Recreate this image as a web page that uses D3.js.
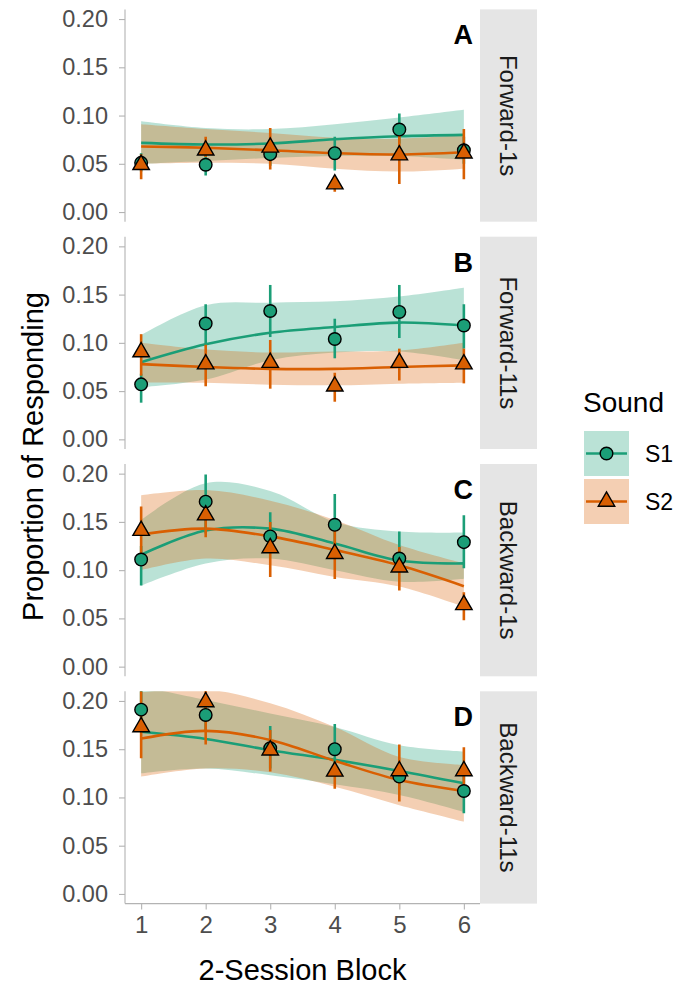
<!DOCTYPE html>
<html lang="en">
<head>
<meta charset="utf-8">
<script src="https://d3js.org/d3.v7.min.js"></script>
<style>
  body { margin: 0; background: #fff; }
  text { font-family: "Liberation Sans", Arial, sans-serif; }
</style>
</head>
<body>
<script>
// chart data, one row per panel (A..D), one value per block
const blocks = [1, 2, 3, 4, 5, 6];
const panels = ["Forward-1s", "Forward-11s", "Backward-1s", "Backward-11s"];
const panelLetters = ["A", "B", "C", "D"];
const sounds = ["S1", "S2"];
const yTicks = [0, 0.05, 0.10, 0.15, 0.20];

// S1 observed means and error bars
const s1Mean = [
  [0.051, 0.049, 0.060, 0.061, 0.0855, 0.064],
  [0.057, 0.120, 0.133, 0.104, 0.132, 0.118],
  [0.111, 0.171, 0.135, 0.147, 0.112, 0.129],
  [0.191, 0.1855, 0.151, 0.150, 0.1216, 0.1067]
];
const s1Lo = [
  [0.042, 0.038, 0.048, 0.043, 0.071, 0.050],
  [0.038, 0.099, 0.106, 0.084, 0.105, 0.094],
  [0.084, 0.138, 0.119, 0.126, 0.102, 0.102],
  [0.172, 0.170, 0.130, 0.127, 0.108, 0.0836]
];
const s1Hi = [
  [0.061, 0.060, 0.073, 0.078, 0.102, 0.078],
  [0.068, 0.140, 0.160, 0.125, 0.160, 0.140],
  [0.125, 0.199, 0.160, 0.179, 0.140, 0.157],
  [0.212, 0.200, 0.174, 0.176, 0.135, 0.128]
];
// S2 observed means and error bars
const s2Mean = [
  [0.049, 0.064, 0.067, 0.029, 0.059, 0.061],
  [0.0905, 0.078, 0.0795, 0.055, 0.0795, 0.078],
  [0.141, 0.157, 0.123, 0.117, 0.103, 0.064],
  [0.173, 0.199, 0.149, 0.127, 0.1275, 0.1275]
];
const s2Lo = [
  [0.034, 0.057, 0.044, 0.021, 0.029, 0.034],
  [0.066, 0.055, 0.0525, 0.039, 0.061, 0.058],
  [0.116, 0.134, 0.093, 0.0907, 0.079, 0.048],
  [0.1406, 0.155, 0.127, 0.109, 0.0957, 0.1026]
];
const s2Hi = [
  [0.060, 0.078, 0.087, 0.036, 0.081, 0.086],
  [0.109, 0.098, 0.103, 0.069, 0.094, 0.094],
  [0.166, 0.170, 0.150, 0.150, 0.124, 0.077],
  [0.210, 0.215, 0.170, 0.137, 0.155, 0.152]
];
// smoothed fits with confidence bands
const s1Fit = [
  [0.0717, 0.070, 0.071, 0.0755, 0.0786, 0.080],
  [0.080, 0.0985, 0.1105, 0.1164, 0.121, 0.118],
  [0.116, 0.141, 0.143, 0.1276, 0.110, 0.107],
  [0.168, 0.1606, 0.149, 0.139, 0.1275, 0.1147]
];
const s1FitLo = [
  [0.050, 0.053, 0.056, 0.058, 0.058, 0.054],
  [0.054, 0.062, 0.082, 0.090, 0.091, 0.082],
  [0.084, 0.107, 0.112, 0.100, 0.088, 0.091],
  [0.125, 0.130, 0.123, 0.1136, 0.1026, 0.085]
];
const s1FitHi = [
  [0.094, 0.087, 0.086, 0.091, 0.098, 0.106],
  [0.108, 0.139, 0.1416, 0.143, 0.148, 0.157],
  [0.152, 0.190, 0.182, 0.150, 0.140, 0.139],
  [0.215, 0.201, 0.187, 0.173, 0.154, 0.1475]
];
const s2Fit = [
  [0.068, 0.0666, 0.064, 0.061, 0.0597, 0.062],
  [0.078, 0.075, 0.073, 0.073, 0.075, 0.0767],
  [0.137, 0.143, 0.135, 0.121, 0.105, 0.0834],
  [0.161, 0.169, 0.1596, 0.138, 0.118, 0.1067]
];
const s2FitLo = [
  [0.050, 0.051, 0.050, 0.045, 0.042, 0.045],
  [0.059, 0.0587, 0.0567, 0.056, 0.0577, 0.0587],
  [0.100, 0.112, 0.105, 0.093, 0.083, 0.062],
  [0.1216, 0.130, 0.126, 0.111, 0.092, 0.075]
];
const s2FitHi = [
  [0.091, 0.086, 0.082, 0.077, 0.076, 0.080],
  [0.100, 0.093, 0.090, 0.091, 0.092, 0.100],
  [0.1776, 0.183, 0.172, 0.152, 0.126, 0.107],
  [0.209, 0.212, 0.1976, 0.173, 0.142, 0.1337]
];

const colors = { S1: "#1b9e77", S2: "#d95f02" };
const series = {
  S1: { mean: s1Mean, lo: s1Lo, hi: s1Hi, fit: s1Fit, fitLo: s1FitLo, fitHi: s1FitHi },
  S2: { mean: s2Mean, lo: s2Lo, hi: s2Hi, fit: s2Fit, fitLo: s2FitLo, fitHi: s2FitHi }
};

const W = 678, H = 985;
const left = 125, right = 480, stripW = 57;
const top0 = 9.4, panelH = 212.3, step = 227.3;

const svg = d3.select("body").append("svg")
  .attr("width", W).attr("height", H);

const x = d3.scaleLinear().domain([0.75, 6.25]).range([left, right]);

const tri = d3.symbol(d3.symbolTriangle, 118);

panels.forEach((name, p) => {
  const pt = top0 + p * step;
  const y = d3.scaleLinear().domain([-0.01, 0.21]).range([pt + panelH, pt]);
  const g = svg.append("g");

  g.append("clipPath").attr("id", "clip" + p)
    .append("rect").attr("x", left).attr("y", pt)
    .attr("width", right - left).attr("height", panelH);

  const plot = g.append("g").attr("clip-path", "url(#clip" + p + ")");

  // confidence bands
  sounds.forEach(s => {
    const d = series[s];
    const area = d3.area()
      .x((v, i) => x(blocks[i]))
      .y0((v, i) => y(d.fitLo[p][i]))
      .y1((v, i) => y(d.fitHi[p][i]))
      .curve(d3.curveCatmullRom);
    plot.append("path").attr("d", area(blocks))
      .attr("fill", colors[s]).attr("fill-opacity", 0.3);
  });

  // fitted lines
  sounds.forEach(s => {
    const d = series[s];
    const line = d3.line()
      .x((v, i) => x(blocks[i]))
      .y((v, i) => y(d.fit[p][i]))
      .curve(d3.curveCatmullRom);
    plot.append("path").attr("d", line(blocks))
      .attr("fill", "none").attr("stroke", colors[s]).attr("stroke-width", 2.6);
  });

  // error bars
  sounds.forEach(s => {
    const d = series[s];
    plot.selectAll(".eb" + s).data(blocks).enter().append("line")
      .attr("x1", b => x(b)).attr("x2", b => x(b))
      .attr("y1", (b, i) => y(d.lo[p][i]))
      .attr("y2", (b, i) => y(d.hi[p][i]))
      .attr("stroke", colors[s]).attr("stroke-width", 2.6);
  });

  // points
  plot.selectAll(".pt1").data(blocks).enter().append("circle")
    .attr("cx", b => x(b)).attr("cy", (b, i) => y(s1Mean[p][i]))
    .attr("r", 6.3).attr("fill", colors.S1)
    .attr("stroke", "#000").attr("stroke-width", 1.4);
  plot.selectAll(".pt2").data(blocks).enter().append("path")
    .attr("d", tri)
    .attr("transform", (b, i) => "translate(" + x(b) + "," + y(s2Mean[p][i]) + ")")
    .attr("fill", colors.S2)
    .attr("stroke", "#000").attr("stroke-width", 1.4);

  // y axis
  const yAxis = g.append("g").attr("transform", "translate(" + left + ",0)")
    .call(d3.axisLeft(y).tickValues(yTicks).tickFormat(d3.format(".2f")).tickSize(6).tickPadding(11));
  yAxis.select(".domain").attr("d", "M0," + pt + "V" + (pt + panelH)).attr("stroke", "#b3b3b3").attr("stroke-width", 1.1);
  yAxis.selectAll(".tick line").attr("stroke", "#b3b3b3").attr("stroke-width", 1.1);
  yAxis.selectAll(".tick text").attr("fill", "#4d4d4d").style("font-size", "23.5px")
    .style("font-family", "'Liberation Sans', Arial, sans-serif");

  // panel letter
  g.append("text").attr("x", right - 7).attr("y", pt + 35)
    .attr("text-anchor", "end").style("font-size", "27px").style("font-weight", "bold")
    .attr("fill", "#000").text(panelLetters[p]);

  // strip
  g.append("rect").attr("x", right).attr("y", pt)
    .attr("width", stripW).attr("height", panelH).attr("fill", "#e5e5e5");
  g.append("text")
    .attr("transform", "translate(" + (right + stripW / 2) + "," + (pt + panelH / 2) + ") rotate(90)")
    .attr("text-anchor", "middle").attr("dy", "0.35em")
    .style("font-size", "24px").attr("fill", "#1a1a1a").text(name);

  // x axis on bottom panel
  if (p === panels.length - 1) {
    const xAxis = g.append("g").attr("transform", "translate(0," + (pt + panelH) + ")")
      .call(d3.axisBottom(x).tickValues(blocks).tickFormat(d3.format("d")).tickSize(6).tickPadding(6));
    xAxis.select(".domain").attr("d", "M" + left + ",0H" + right).attr("stroke", "#b3b3b3").attr("stroke-width", 1.1);
    xAxis.selectAll(".tick line").attr("stroke", "#b3b3b3").attr("stroke-width", 1.1);
    xAxis.selectAll(".tick text").attr("fill", "#4d4d4d").style("font-size", "24px")
      .style("font-family", "'Liberation Sans', Arial, sans-serif");
  }
});

// axis titles
svg.append("text").attr("x", (left + right) / 2).attr("y", 980)
  .attr("text-anchor", "middle").style("font-size", "29px").attr("fill", "#000")
  .text("2-Session Block");
svg.append("text")
  .attr("transform", "translate(43," + (top0 + (3 * step + panelH) / 2) + ") rotate(-90)")
  .attr("text-anchor", "middle").style("font-size", "29px").attr("fill", "#000")
  .text("Proportion of Responding");

// legend
const lg = svg.append("g");
lg.append("text").attr("x", 583).attr("y", 412).style("font-size", "28px").attr("fill", "#000").text("Sound");
sounds.forEach((s, i) => {
  const ky = 431 + i * 48;
  lg.append("rect").attr("x", 584).attr("y", ky).attr("width", 45).attr("height", 45)
    .attr("fill", colors[s]).attr("fill-opacity", 0.3);
  lg.append("line").attr("x1", 586).attr("x2", 627).attr("y1", ky + 22.5).attr("y2", ky + 22.5)
    .attr("stroke", colors[s]).attr("stroke-width", 2.6);
  if (s === "S1") {
    lg.append("circle").attr("cx", 606.5).attr("cy", ky + 22.5).attr("r", 6.3)
      .attr("fill", colors[s]).attr("stroke", "#000").attr("stroke-width", 1.4);
  } else {
    lg.append("path").attr("d", tri).attr("transform", "translate(606.5," + (ky + 22.5) + ")")
      .attr("fill", colors[s]).attr("stroke", "#000").attr("stroke-width", 1.4);
  }
  lg.append("text").attr("x", 645).attr("y", ky + 22.5).attr("dy", "0.35em")
    .style("font-size", "23px").attr("fill", "#000").text(s);
});
</script>
</body>
</html>
